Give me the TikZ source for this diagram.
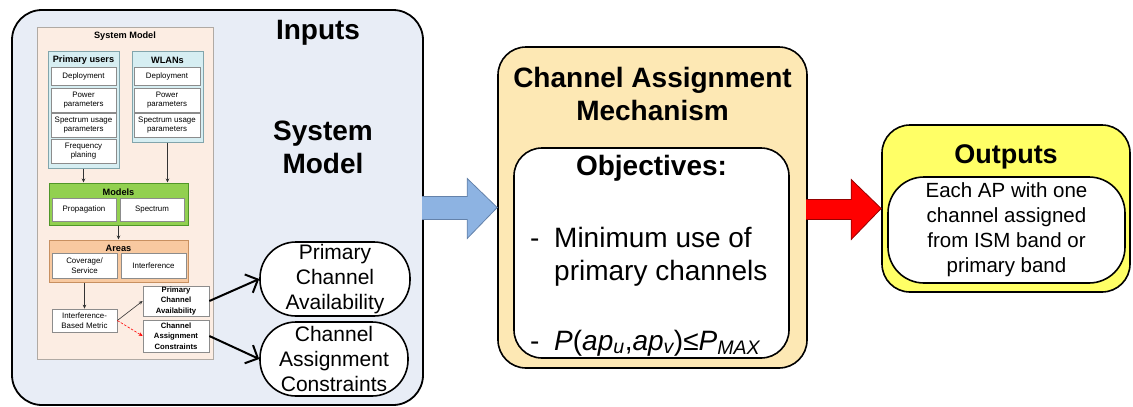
\documentclass[tikz,border=0pt]{standalone}
\usepackage{fontspec}
\setmainfont{Liberation Sans}
\usetikzlibrary{arrows.meta,calc}
\definecolor{inbg}{RGB}{232,237,246}
\definecolor{panelbg}{RGB}{252,237,227}
\definecolor{panelbd}{RGB}{176,170,164}
\definecolor{grpbg}{RGB}{214,238,242}
\definecolor{grpbd}{RGB}{130,165,172}
\definecolor{modbg}{RGB}{146,208,80}
\definecolor{modbd}{RGB}{80,150,40}
\definecolor{areabg}{RGB}{248,201,160}
\definecolor{areabd}{RGB}{200,144,96}
\definecolor{cambg}{RGB}{253,232,180}
\definecolor{outbg}{RGB}{255,255,102}
\definecolor{barrow}{RGB}{141,179,226}
\definecolor{barrowbd}{RGB}{100,130,170}
\definecolor{rarrowbd}{RGB}{150,0,0}
\tikzset{
  sub/.style={draw=black!45, fill=white, line width=0.7pt, inner sep=0pt, align=center,
    font=\fontsize{7.9}{9.8}\selectfont},
  subb/.style={sub, font=\bfseries\fontsize{7.7}{10.3}\selectfont},
  grptitle/.style={inner sep=0pt, font=\bfseries\fontsize{9.2}{10}\selectfont},
  thin arrow/.style={draw=black!80, line width=0.6pt, -{Stealth[length=4pt,width=3.5pt]}},
  thick arrow/.style={draw=black, line width=2pt, -{Straight Barb[length=10pt,width=20pt,line width=2pt]}},
  bigstadium/.style={draw=black, line width=1.6pt, fill=white, rounded corners=36pt, inner sep=0pt,
    align=center, font=\fontsize{21}{25}\selectfont},
  bigtitle/.style={inner sep=0pt, align=center, font=\bfseries\fontsize{28}{33}\selectfont},
  bigtext/.style={inner sep=0pt, font=\fontsize{28}{33}\selectfont}
}
\begin{document}
\begin{tikzpicture}[x=1pt,y=-1pt]
\useasboundingbox (0,0) rectangle (1133,407);

% Inputs outer box
\node[draw=black, line width=1.8pt, fill=inbg, rounded corners=30pt, minimum width=411pt, minimum height=395pt, inner sep=0pt] (inputs) at (217.5,207.5) {};
\node[bigtitle] (inputst) at (318,33) {Inputs};
\node[bigtitle] (smt) at (323,147) {System\\Model};

% System model panel
\node[draw=panelbd, line width=1pt, fill=panelbg, minimum width=176pt, minimum height=332pt, inner sep=0pt] (panel) at (125,193) {};
\node[grptitle] (panelt) at (125,36) {System Model};

% Primary users group
\node[draw=grpbd, line width=1pt, fill=grpbg, minimum width=71pt, minimum height=117pt, inner sep=0pt] (pu) at (83.5,109.5) {};
\node[grptitle] (put) at (83.5,60) {Primary users};
\node[sub, minimum width=65pt, minimum height=18pt] (pudep) at (83.5,76) {Deployment};
\node[sub, minimum width=65pt, minimum height=24pt] (pupow) at (83.5,100) {Power\\parameters};
\node[sub, minimum width=65pt, minimum height=24pt] (puspec) at (83.5,125) {Spectrum usage\\parameters};
\node[sub, minimum width=65pt, minimum height=24pt] (pufreq) at (83.5,151) {Frequency\\planing};

% WLANs group
\node[draw=grpbd, line width=1pt, fill=grpbg, minimum width=71pt, minimum height=91pt, inner sep=0pt] (wl) at (167.5,96.5) {};
\node[grptitle] (wlt) at (167.5,60) {WLANs};
\node[sub, minimum width=66pt, minimum height=18pt] (wldep) at (167,76) {Deployment};
\node[sub, minimum width=66pt, minimum height=24pt] (wlpow) at (167,100) {Power\\parameters};
\node[sub, minimum width=66pt, minimum height=24pt] (wlspec) at (167,125) {Spectrum usage\\parameters};

% Models group
\node[draw=modbd, line width=1pt, fill=modbg, minimum width=139pt, minimum height=42pt, inner sep=0pt] (models) at (118.5,204) {};
\node[grptitle] (modelst) at (118.5,192) {Models};
\node[sub, minimum width=64pt, minimum height=23pt] (prop) at (84,209.5) {Propagation};
\node[sub, minimum width=64pt, minimum height=23pt] (spect) at (152,209.5) {Spectrum};

% Areas group
\node[draw=areabd, line width=1pt, fill=areabg, minimum width=139pt, minimum height=42pt, inner sep=0pt] (areas) at (118.5,261) {};
\node[grptitle] (areast) at (118.5,248.5) {Areas};
\node[sub, minimum width=65pt, minimum height=25pt] (cov) at (84.5,265.5) {Coverage/\\Service};
\node[sub, minimum width=65pt, minimum height=25pt] (intf) at (153.5,265.5) {Interference};

% Lower boxes
\node[sub, minimum width=65pt, minimum height=23pt] (ibm) at (84.5,320.5) {Interference-\\Based Metric};
\node[subb, minimum width=66pt, minimum height=30pt] (pcas) at (176,301) {Primary\\Channel\\Availability};
\node[subb, minimum width=66pt, minimum height=32pt] (cacs) at (176,336) {Channel\\Assignment\\Constraints};

% small arrows
\draw[thin arrow] (pu.south) -- (pu.south |- models.north);
\draw[thin arrow] (wl.south) -- (wl.south |- models.north);
\draw[thin arrow] (models.south) -- (areas.north);
\draw[thin arrow] (areas.south -| ibm.north) -- (ibm.north);
\draw[thin arrow] (ibm.east) -- (pcas.west);
\draw[draw=red, line width=0.6pt, dash pattern=on 2.5pt off 1.5pt, -{Stealth[length=4pt,width=3.5pt]}] (ibm.east) -- (cacs.west);

% big stadium nodes
\node[bigstadium, minimum width=150pt, minimum height=74pt] (pcab) at (335,279) {Primary\\Channel\\Availability};
\node[bigstadium, minimum width=148pt, minimum height=74pt] (cacb) at (334,359) {Channel\\Assignment\\Constraints};
\draw[thick arrow] (pcas.east) -- (pcab.west);
\draw[thick arrow] (cacs.east) -- (cacb.west);

% Channel assignment mechanism
\node[draw=black, line width=1.6pt, fill=cambg, rounded corners=28pt, minimum width=309pt, minimum height=321pt, inner sep=0pt] (cam) at (652.5,207.5) {};
\node[bigtitle] (camt) at (652.5,93.5) {Channel Assignment\\Mechanism};
\node[draw=black, line width=1.6pt, fill=white, rounded corners=28pt, minimum width=275pt, minimum height=210pt, inner sep=0pt] (obj) at (651.5,253) {};
\node[bigtitle] (objt) at (651.5,168) {Objectives:};
\node[bigtext, anchor=base west] (d1) at (530,247) {-};
\node[bigtext, anchor=base west] (t1a) at (554,247) {Minimum use of};
\node[bigtext, anchor=base west] (t1b) at (554,280) {primary channels};
\node[bigtext, anchor=base west] (d2) at (530,350) {-};
\node[bigtext, anchor=base west] (t2) at (554,350) {\textit{P}(\textit{ap\textsubscript{u}},\textit{ap\textsubscript{v}})≤\textit{P\textsubscript{MAX}}};

% Outputs
\node[draw=black, line width=1.6pt, fill=outbg, rounded corners=28pt, minimum width=248pt, minimum height=167pt, inner sep=0pt] (outputs) at (1006,208.5) {};
\node[inner sep=0pt, font=\bfseries\fontsize{27}{32}\selectfont] (outt) at (1006,157) {Outputs};
\node[draw=black, line width=1.6pt, fill=white, rounded corners=36pt, minimum width=237pt, minimum height=106pt, inner sep=0pt, align=center, font=\fontsize{20.5}{25}\selectfont] (outin) at (1006.5,230) {Each AP with one\\channel assigned\\from ISM band or\\primary band};

% block arrows
\draw[draw=barrowbd, fill=barrow, line width=0.8pt]
  ($(cam.west)+(-75,-11)$) -- ($(cam.west)+(-30,-11)$) -- ($(cam.west)+(-30,-29)$) -- (cam.west)
  -- ($(cam.west)+(-30,31)$) -- ($(cam.west)+(-30,12)$) -- ($(cam.west)+(-75,12)$);
\draw[draw=rarrowbd, fill=red, line width=0.8pt]
  ($(outputs.west)+(-75,-9)$) -- ($(outputs.west)+(-30,-9)$) -- ($(outputs.west)+(-30,-29)$) -- (outputs.west)
  -- ($(outputs.west)+(-30,31)$) -- ($(outputs.west)+(-30,11)$) -- ($(outputs.west)+(-75,11)$);
\end{tikzpicture}
\end{document}
